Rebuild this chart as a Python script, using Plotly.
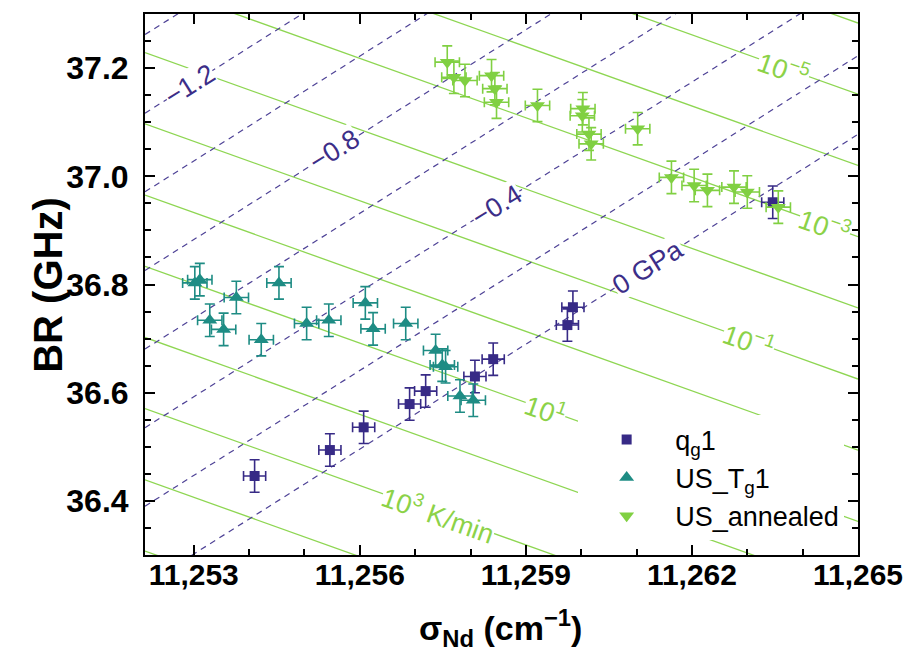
import plotly.graph_objects as go

# ---------------- data ----------------
qg1_sigma = [11254.10, 11255.46, 11256.07, 11256.90, 11257.19, 11258.08, 11258.41, 11259.85, 11259.75, 11263.46]
qg1_br = [36.446, 36.494, 36.536, 36.579, 36.603, 36.630, 36.662, 36.758, 36.725, 36.952]
qg1_sigma_err = [0.20, 0.20, 0.20, 0.20, 0.20, 0.20, 0.20, 0.20, 0.20, 0.20]
qg1_br_err = [0.030, 0.030, 0.030, 0.030, 0.030, 0.030, 0.030, 0.030, 0.030, 0.030]

ustg1_sigma = [11253.02, 11253.11, 11253.29, 11253.54, 11253.77, 11254.22, 11254.54, 11255.04, 11255.44,
               11256.10, 11256.24, 11256.83, 11257.37, 11257.49, 11257.55, 11257.81, 11258.05]
ustg1_br = [36.803, 36.809, 36.734, 36.717, 36.776, 36.698, 36.803, 36.728, 36.734,
            36.766, 36.718, 36.728, 36.678, 36.651, 36.648, 36.594, 36.586]
ustg1_sigma_err = [0.22, 0.22, 0.22, 0.22, 0.22, 0.22, 0.22, 0.22, 0.22,
                   0.22, 0.22, 0.22, 0.22, 0.22, 0.22, 0.22, 0.22]
ustg1_br_err = [0.030, 0.030, 0.030, 0.030, 0.030, 0.030, 0.030, 0.030, 0.030,
                0.030, 0.030, 0.030, 0.030, 0.030, 0.030, 0.030, 0.030]

usann_sigma = [11257.58, 11257.70, 11257.90, 11258.38, 11258.44, 11258.47, 11259.21, 11260.03, 11260.02,
               11260.14, 11260.18, 11261.02, 11261.63, 11262.04, 11262.28, 11262.76, 11263.00, 11263.56]
usann_br = [37.211, 37.183, 37.177, 37.186, 37.162, 37.137, 37.131, 37.125, 37.112,
            37.078, 37.060, 37.088, 36.998, 36.983, 36.974, 36.980, 36.971, 36.943]
usann_sigma_err = [0.22, 0.22, 0.22, 0.22, 0.22, 0.22, 0.22, 0.22, 0.22,
                   0.22, 0.22, 0.22, 0.22, 0.22, 0.22, 0.22, 0.22, 0.22]
usann_br_err = [0.030, 0.030, 0.030, 0.030, 0.030, 0.030, 0.030, 0.030, 0.030,
                0.030, 0.030, 0.030, 0.030, 0.030, 0.030, 0.030, 0.030, 0.030]

# isoline families (linear model)
pressure_levels = [-1.4, -1.2, -1.0, -0.8, -0.6, -0.4, -0.2, 0.0]       # GPa
rate_exponents = [-6, -5, -4, -3, -2, -1, 0, 1, 2, 3, 4, 5]              # log10(K/min)
SIGMA_REF = 11258.0
P_BR_REF, P_SLOPE, P_SHIFT = 36.625, 0.06465, -0.7265     # GHz, GHz/cm-1, GHz/GPa
Q_BR_REF, Q_SLOPE, Q_SHIFT = 36.750, -0.03662, -0.1316    # GHz, GHz/cm-1, GHz/decade

pressure_label_levels = [-1.2, -0.8, -0.4, 0.0]
pressure_label_texts = ["\u22121.2", "\u22120.8", "\u22120.4", "0 GPa"]
pressure_label_sigma = [11252.93, 11255.55, 11258.47, 11261.21]

rate_label_levels = [-5, -3, -1, 1, 3]
rate_label_texts = ["10<sup>\u22125</sup>", "10<sup>\u22123</sup>", "10<sup>\u22121</sup>",
                    "10<sup>1</sup>", "10<sup>3</sup> K/min"]
rate_label_sigma = [11263.66, 11264.40, 11263.03, 11259.35, 11257.43]

X_RANGE = [11252.12, 11265.0]
Y_RANGE = [36.3, 37.3]


def br_pressure(sigma, p):
    return P_BR_REF + P_SLOPE * (sigma - SIGMA_REF) + P_SHIFT * p


def br_rate(sigma, n):
    return Q_BR_REF + Q_SLOPE * (sigma - SIGMA_REF) + Q_SHIFT * n


NAVY = "rgb(55,42,134)"
TEAL = "rgb(30,140,132)"
LGREEN = "rgb(128,208,66)"
DASH_COL = "rgb(78,66,150)"
LINE_GREEN = "rgb(142,214,82)"
SANS = "Liberation Sans, Arial, sans-serif"

fig = go.Figure()

for n in rate_exponents:
    fig.add_trace(go.Scatter(x=X_RANGE, y=[br_rate(s, n) for s in X_RANGE], mode="lines",
                             line=dict(color=LINE_GREEN, width=1.3), showlegend=False, hoverinfo="skip"))
for p in pressure_levels:
    fig.add_trace(go.Scatter(x=X_RANGE, y=[br_pressure(s, p) for s in X_RANGE], mode="lines",
                             line=dict(color=DASH_COL, width=1.2, dash="6px,5px"), showlegend=False,
                             hoverinfo="skip"))


def series(name, xs, ys, ex, ey, color, symbol, size):
    return go.Scatter(
        x=xs, y=ys, mode="markers", name=name,
        marker=dict(color=color, symbol=symbol, size=size, line=dict(width=0)),
        error_x=dict(type="data", array=ex, color=color, thickness=1.6, width=5),
        error_y=dict(type="data", array=ey, color=color, thickness=1.6, width=5),
    )


fig.add_trace(series("q<sub>g</sub>1", qg1_sigma, qg1_br, qg1_sigma_err, qg1_br_err, NAVY, "square", 10))
fig.add_trace(series("US_T<sub>g</sub>1", ustg1_sigma, ustg1_br, ustg1_sigma_err, ustg1_br_err, TEAL,
                     "triangle-up", 13))
fig.add_trace(series("US_annealed", usann_sigma, usann_br, usann_sigma_err, usann_br_err, LGREEN,
                     "triangle-down", 13))

annotations = []
for lvl, txt, s in zip(pressure_label_levels, pressure_label_texts, pressure_label_sigma):
    annotations.append(dict(x=s, y=br_pressure(s, lvl), text=txt, showarrow=False, textangle=-32,
                            font=dict(family=SANS, size=27, color="rgb(60,46,136)"),
                            bgcolor="white", borderpad=0, xanchor="center", yanchor="middle"))
for lvl, txt, s in zip(rate_label_levels, rate_label_texts, rate_label_sigma):
    annotations.append(dict(x=s, y=br_rate(s, lvl), text=txt, showarrow=False, textangle=19.5,
                            font=dict(family=SANS, size=27, color="rgb(140,210,72)"),
                            bgcolor="white", borderpad=0, xanchor="center", yanchor="middle"))

annotations.append(dict(xref="paper", yref="paper", x=-0.137, y=0.5, text="BR (GHz)", textangle=-90,
                        showarrow=False, xanchor="center", yanchor="middle",
                        font=dict(family=SANS, size=40, color="black", weight="bold")))
annotations.append(dict(xref="paper", yref="paper", x=0.498, y=-0.135,
                        text="\u03c3<sub>Nd</sub> (cm<sup>\u22121</sup>)",
                        showarrow=False, xanchor="center", yanchor="middle",
                        font=dict(family=SANS, size=34, color="black", weight="bold")))

axis_common = dict(showline=True, linewidth=2, linecolor="black", mirror="allticks", ticks="inside",
                   ticklen=10, tickwidth=2, tickcolor="black", showgrid=False, zeroline=False)

fig.update_layout(
    width=915, height=662,
    margin=dict(l=145, r=49, t=13, b=107),
    paper_bgcolor="white", plot_bgcolor="white",
    xaxis=dict(range=X_RANGE, tick0=11253, dtick=3, tickformat=",d",
               minor=dict(dtick=1, tick0=11253, ticks="inside", ticklen=6, tickwidth=2, tickcolor="black"),
               tickfont=dict(family=SANS, size=30, color="black", weight="bold"),
               ticklabelstandoff=-8, **axis_common),
    yaxis=dict(range=Y_RANGE, tick0=36.4, dtick=0.2, tickformat=".1f",
               minor=dict(dtick=0.05, tick0=36.3, ticks="inside", ticklen=6, tickwidth=2, tickcolor="black"),
               tickfont=dict(family=SANS, size=32, color="black", weight="bold"),
               ticklabelstandoff=8, **axis_common),
    legend=dict(x=0.6075, y=0.258, xanchor="left", yanchor="top", bgcolor="white", borderwidth=0,
                font=dict(family=SANS, size=27, color="black"),
                itemwidth=87, tracegroupgap=0),
    annotations=annotations,
    showlegend=True,
)

fig.write_html("out.html", config={"displayModeBar": False},
               post_script="document.body.style.margin='0px';")
